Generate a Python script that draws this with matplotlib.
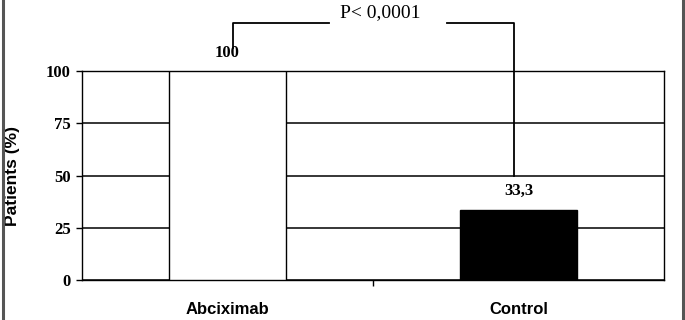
import matplotlib.pyplot as plt
from matplotlib.lines import Line2D

# data
groups = ['Abciximab', 'Control']
patients_pct = [100, 33.3]
value_labels = ['100', '33,3']
bar_colors = ['white', 'black']
y_ticks = [0, 25, 50, 75, 100]
p_text = 'P< 0,0001'

fig = plt.figure(figsize=(6.85, 3.2), dpi=100)
ax = fig.add_axes([82 / 685, 40 / 320, 582 / 685, 209 / 320])

x = list(range(len(groups)))
ax.bar(x, patients_pct, width=0.40, color=bar_colors, edgecolor='black',
       linewidth=1.0, zorder=3)

ax.set_xlim(-0.5, 1.5)
ax.set_ylim(0, 100)

# y axis: serif bold ticks, black gridlines behind bars
ax.set_yticks(y_ticks)
ax.set_yticklabels([str(t) for t in y_ticks], family='Liberation Serif',
                   fontweight='bold', fontsize=12)
ax.tick_params(axis='y', direction='out', length=4, width=1, pad=4)
ax.yaxis.grid(True, color='black', linewidth=1.1)
ax.set_axisbelow(True)

# x axis: category labels without ticks, one small tick between groups
ax.set_xticks(x)
ax.set_xticklabels(groups, family='Liberation Sans', fontweight='bold', fontsize=12)
ax.tick_params(axis='x', which='major', length=0, pad=16)
ax.set_xticks([0.5], minor=True)
ax.tick_params(axis='x', which='minor', direction='out', length=4, width=1)

for s in ax.spines.values():
    s.set_linewidth(1.0)
    s.set_color('black')

ax.set_ylabel('Patients (%)', family='Liberation Sans', fontweight='bold',
              fontsize=12.5)
ax.yaxis.set_label_coords(-0.106, 0.5)

# value labels above bars
ax.text(0, 108.5, value_labels[0], ha='center', va='center',
        family='Liberation Serif', fontweight='bold', fontsize=12)
ax.text(1, 42.6, value_labels[1], ha='center', va='center',
        family='Liberation Serif', fontweight='bold', fontsize=12)

# significance bracket
lk = dict(color='black', linewidth=1.3, clip_on=False, zorder=4)
ax.plot([0.02, 0.02, 0.348], [111, 123, 123], **lk)
ax.plot([0.753, 0.983, 0.983], [123, 123, 50], **lk)
ax.text(0.526, 127.8, p_text, ha='center', va='center',
        family='Liberation Serif', fontsize=14)

# grey frame lines on the left and right edges of the picture
for fx in (2.5 / 685, 682.5 / 685):
    fig.add_artist(Line2D([fx, fx], [0, 1], transform=fig.transFigure,
                          color='#555555', linewidth=2.2))

plt.savefig('out.png', dpi=100)
